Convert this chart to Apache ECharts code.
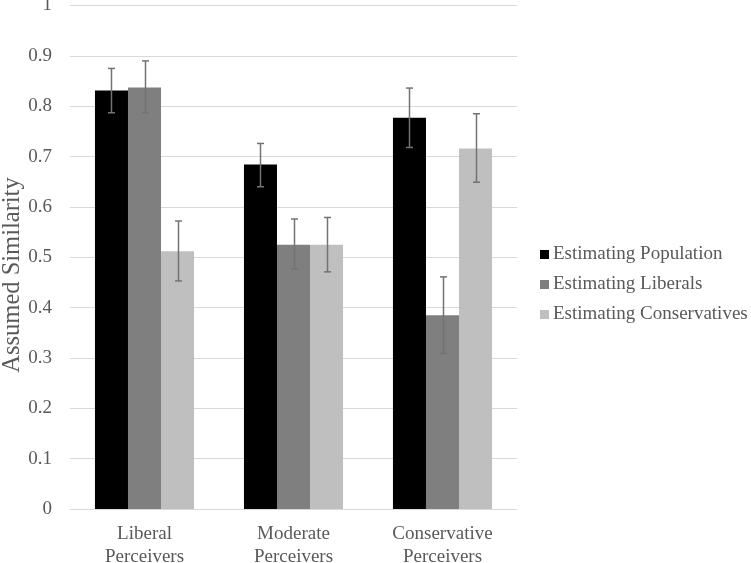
<!DOCTYPE html>
<html>
<head>
<meta charset="utf-8">
<script src="https://cdn.jsdelivr.net/npm/echarts@6/dist/echarts.min.js"></script>
<style>html,body{margin:0;padding:0;background:#fff}#c{width:751px;height:563px}</style>
</head>
<body>
<div id="c"></div>
<script>
var categories = ['Liberal\nPerceivers', 'Moderate\nPerceivers', 'Conservative\nPerceivers'];
var seriesNames = ['Estimating Population', 'Estimating Liberals', 'Estimating Conservatives'];
var yAxisTitle = 'Assumed Similarity';
var estPopulation = [0.831, 0.684, 0.777];
var estLiberals = [0.837, 0.525, 0.385];
var estConservatives = [0.512, 0.525, 0.716];
var errPopulationLow = [0.787, 0.640, 0.718];
var errPopulationHigh = [0.875, 0.726, 0.836];
var errLiberalsLow = [0.787, 0.477, 0.309];
var errLiberalsHigh = [0.890, 0.576, 0.461];
var errConservativesLow = [0.453, 0.471, 0.649];
var errConservativesHigh = [0.572, 0.579, 0.785];
var yTicks = ['0', '0.1', '0.2', '0.3', '0.4', '0.5', '0.6', '0.7', '0.8', '0.9', '1'];

var barColors = ['#000000', '#7f7f7f', '#bfbfbf'];
var values = [estPopulation, estLiberals, estConservatives];
var lows = [errPopulationLow, errLiberalsLow, errConservativesLow];
var highs = [errPopulationHigh, errLiberalsHigh, errConservativesHigh];
var catGap = 0.335;
var font = 'Liberation Serif';
var txt = '#595959';

var chart = echarts.init(document.getElementById('c'), null, {renderer: 'canvas'});
var series = [];
values.forEach(function (v, i) {
  series.push({
    name: seriesNames[i], type: 'bar', data: v,
    itemStyle: {color: barColors[i]},
    barGap: '0%', barCategoryGap: (catGap * 100) + '%'
  });
});
values.forEach(function (v, i) {
  var data = categories.map(function (c, k) { return [k, lows[i][k], highs[i][k]]; });
  series.push({
    type: 'custom', name: seriesNames[i] + ' error', data: data, z: 10,
    silent: true,
    renderItem: function (params, api) {
      var k = api.value(0);
      var band = api.size([1, 0])[0];
      var bw = band * (1 - catGap) / 3;
      var off = (i - 1) * bw;
      var lo = api.coord([k, api.value(1)]);
      var hi = api.coord([k, api.value(2)]);
      var x = Math.round(lo[0] + off) + 0.5;
      var cap = 3.5;
      var st = {stroke: '#737373', lineWidth: 1.5};
      return {type: 'group', children: [
        {type: 'line', shape: {x1: x, y1: hi[1], x2: x, y2: lo[1]}, style: st},
        {type: 'line', shape: {x1: x - cap, y1: hi[1], x2: x + cap, y2: hi[1]}, style: st},
        {type: 'line', shape: {x1: x - cap, y1: lo[1], x2: x + cap, y2: lo[1]}, style: st}
      ]};
    }
  });
});

chart.setOption({
  animation: false,
  backgroundColor: '#ffffff',
  textStyle: {fontFamily: font},
  grid: {left: 70, right: 234, top: 5.5, bottom: 54, containLabel: false, outerBoundsMode: 'none'},
  graphic: [{
    type: 'text', x: 13, y: 275, rotation: Math.PI / 2,
    style: {text: yAxisTitle, font: '24.5px "Liberation Serif"', fill: txt, align: 'center', verticalAlign: 'middle'}
  }],
  legend: {
    orient: 'vertical', left: 535, top: 240,
    data: seriesNames,
    icon: 'rect', itemWidth: 9, itemHeight: 9, itemGap: 11,
    textStyle: {fontFamily: font, fontSize: 19, color: txt, padding: [0, 0, 0, -1]}
  },
  xAxis: {
    type: 'category', data: categories,
    axisLine: {lineStyle: {color: '#d9d9d9', width: 1}},
    axisTick: {show: false},
    axisLabel: {fontFamily: font, fontSize: 19, color: txt, margin: 14, lineHeight: 23, interval: 0}
  },
  yAxis: {
    type: 'value', min: 0, max: 1, interval: 0.1,
    axisLine: {show: false}, axisTick: {show: false},
    splitLine: {lineStyle: {color: '#d9d9d9', width: 1}},
    axisLabel: {
      fontFamily: font, fontSize: 19, color: txt, margin: 18,
      formatter: function (v) { return yTicks[Math.round(v * 10)]; }
    }
  },
  series: series
});
</script>
</body>
</html>
